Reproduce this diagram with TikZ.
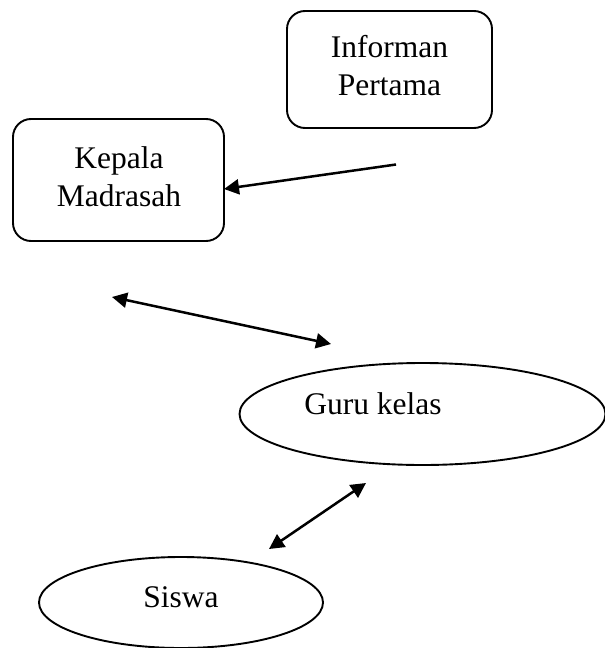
\documentclass[tikz,border=0pt]{standalone}
\usepackage{fontspec}
\setmainfont{Liberation Serif}
\usetikzlibrary{arrows.meta,shapes.geometric}
\begin{document}
\begin{tikzpicture}[x=1pt,y=-1pt,
  lbl/.style={font=\fontsize{31.5}{38}\selectfont, align=center, inner sep=0pt},
  rbox/.style={draw, line width=1.9pt, rounded corners=18pt, inner sep=0pt},
  ell/.style={draw, ellipse, line width=1.9pt, inner sep=0pt},
  conn/.style={line width=2.5pt, -{Triangle[length=15pt,width=15pt]}},
  dconn/.style={line width=2.5pt, {Triangle[length=15pt,width=15pt]}-{Triangle[length=15pt,width=15pt]}}]
\useasboundingbox (0,0) rectangle (605,648);
\clip (0,0) rectangle (605,648);
% boxes
\node[rbox, minimum width=205pt, minimum height=117pt] (inf) at (389.5,69.5) {};
\node[lbl] (inft) at (389.5,66) {Informan\\Pertama};
\node[rbox, minimum width=211pt, minimum height=122pt] (kep) at (118.5,180) {};
\node[lbl] (kept) at (119,176.5) {Kepala\\Madrasah};
% ellipses
\node[ell, minimum width=366pt, minimum height=102pt] (guru) at (422.5,414) {};
\node[lbl] (gurut) at (373,404) {Guru kelas};
\node[ell, minimum width=284pt, minimum height=91pt] (siswa) at (181,602.5) {};
\node[lbl] (siswat) at (181,597) {Siswa};
% connector end points
\coordinate (a1s) at (396,164.5);
\coordinate (a1e) at (224,189);
\coordinate (a2s) at (112,297);
\coordinate (a2e) at (331,344);
\coordinate (a3s) at (269,549);
\coordinate (a3e) at (366,483);
\draw[conn] (a1s) -- (a1e);
\draw[dconn] (a2s) -- (a2e);
\draw[dconn] (a3s) -- (a3e);
\end{tikzpicture}
\end{document}
